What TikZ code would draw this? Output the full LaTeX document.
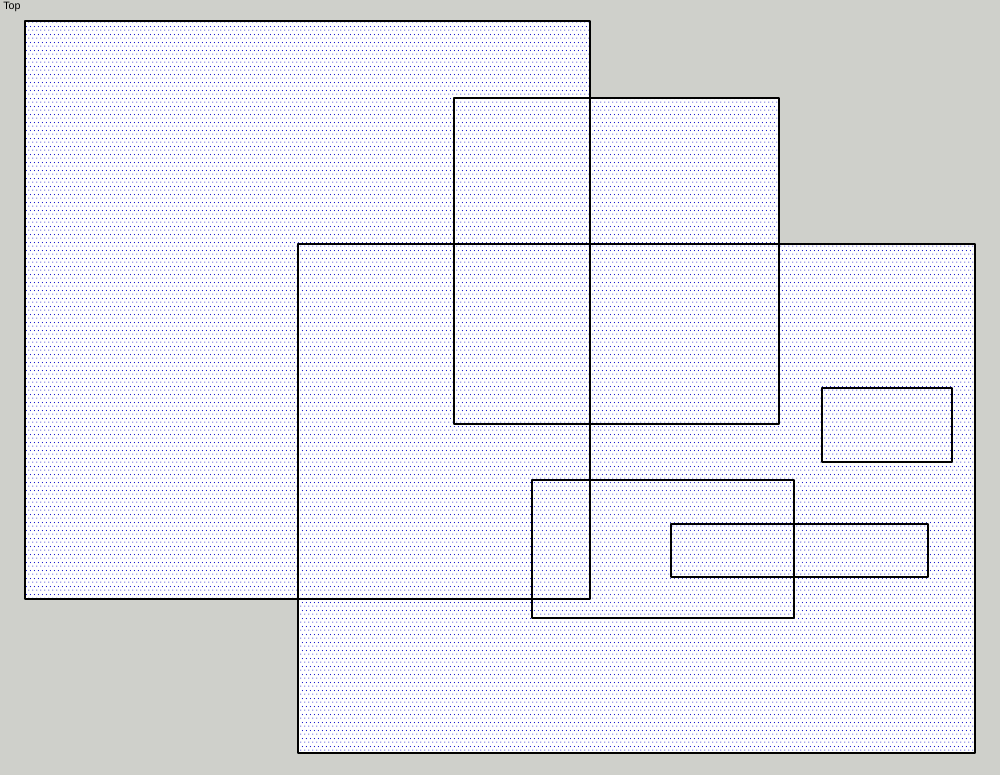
\documentclass[tikz,border=0pt]{standalone}
\usepackage{fontspec}
\setsansfont{Liberation Sans}
\usetikzlibrary{patterns}
\pgfdeclarepatternformonly{bluedots}{\pgfpointorigin}{\pgfqpoint{3pt}{6pt}}{\pgfqpoint{3pt}{6pt}}{%
  \pgfpathcircle{\pgfqpoint{0.75pt}{0.75pt}}{0.5pt}%
  \pgfpathcircle{\pgfqpoint{2.25pt}{3.75pt}}{0.5pt}%
  \pgfusepath{fill}}
\definecolor{bggray}{RGB}{207,208,203}
\definecolor{dotblue}{RGB}{10,10,200}
\tikzset{
  face/.style={fill=white},
  dotface/.style={pattern=bluedots, pattern color=dotblue},
  edge/.style={draw=black, line width=1.4pt, line join=round},
  label/.style={font=\sffamily\fontsize{8pt}{9.5pt}\selectfont, anchor=north west, inner sep=0pt}
}
\begin{document}
\begin{tikzpicture}[x=0.75pt,y=-0.75pt]
\useasboundingbox (0,0) rectangle (1000,775);
\fill[bggray] (0,0) rectangle (1000,775);
% faces
\foreach \a/\b/\c/\d in {25/21/590/599, 454/98/779/424, 298/244/975/753, 822/388/952/462, 532/480/794/618, 671/524/928/577}{
  \path[face] (\a,\b) rectangle (\c,\d);
  \path[dotface] (\a,\b) rectangle (\c,\d);
}
% edges
\foreach \a/\b/\c/\d in {25/21/590/599, 454/98/779/424, 298/244/975/753, 822/388/952/462, 532/480/794/618, 671/524/928/577}{
  \draw[edge] (\a,\b) rectangle (\c,\d);
}
\node[label] (view) at (3,2) {Top};
\end{tikzpicture}
\end{document}
